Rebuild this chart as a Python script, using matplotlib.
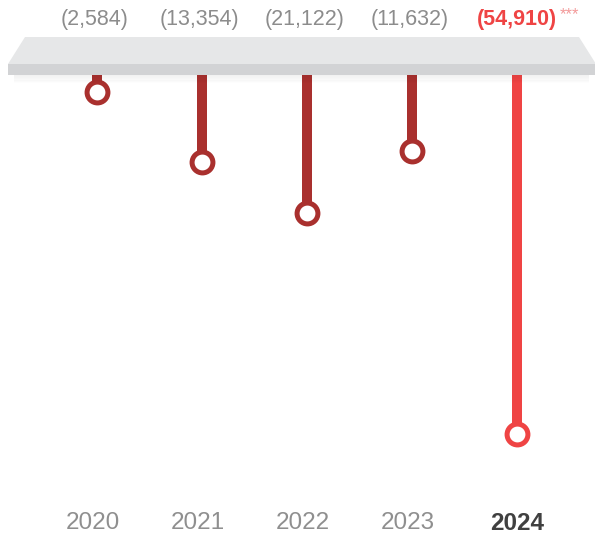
import matplotlib.pyplot as plt
from matplotlib.patches import Polygon, Rectangle
import matplotlib.transforms as mtransforms

# Werte (Verluste) je Jahr
jahre = ["2020", "2021", "2022", "2023", "2024"]
werte = [2584, 13354, 21122, 11632, 54910]
labels = ["(2,584)", "(13,354)", "(21,122)", "(11,632)", "(54,910)"]

dunkelrot = "#a9302e"
hellrot = "#ef4444"
farben = [dunkelrot, dunkelrot, dunkelrot, dunkelrot, hellrot]

B, H = 595, 535
fig = plt.figure(figsize=(B / 100, H / 100), dpi=100)
plt.rcParams['font.family'] = ['Liberation Sans', 'DejaVu Sans']

# Hintergrund-Achse in Pixelkoordinaten fuer das "Regal"
deko = fig.add_axes([0, 0, 1, 1])
deko.set_xlim(0, B)
deko.set_ylim(H, 0)
deko.axis("off")

# Schatten unter dem Regal
for i in range(8):
    deko.add_patch(Rectangle((14, 75 + i * 0.9), 575, 1.2, color="#000000",
                             alpha=0.05 * (1 - i / 8), lw=0, zorder=1))
# Oberseite und Vorderkante
deko.add_patch(Polygon([(25, 37), (579, 37), (596, 64), (8, 64)],
                       closed=True, color="#e6e7e8", lw=0, zorder=2))
deko.add_patch(Rectangle((8, 64), 590, 11, color="#d2d3d5", lw=0, zorder=2))

# Daten-Achse: x = Jahr-Index, y = Wert (nach unten)
ax = fig.add_axes([0, 0, 1, 1])
ax.patch.set_alpha(0)
deko.set_zorder(1)
ax.set_zorder(0)
k = 359 / 54910
ax.set_xlim(-97 / 105, (B - 97) / 105)
ax.set_ylim((H - 75) / k, -75 / k)
ax.axis("off")

x = range(len(werte))
ax.vlines(x, 0, werte, colors=farben, lw=7.2, zorder=3)
for i, v in enumerate(werte):
    ax.plot(i, v, "o", ms=15, mfc="white", mec=farben[i], mew=3.6, zorder=4)

# Beschriftungen oben
trans = mtransforms.blended_transform_factory(ax.transData, fig.transFigure)
for i, t in enumerate(labels):
    if i < 4:
        ax.text(i - 0.02, 1 - 19 / H, t, transform=trans, ha="center",
                va="center", fontsize=15.5, color="#8c8c8c", zorder=5)
    else:
        ax.text(i, 1 - 19 / H, t, transform=trans, ha="center", va="center",
                fontsize=15.5, color=hellrot, fontweight="bold", zorder=5)
        ax.text(i + 0.41, 1 - 15 / H, "***", transform=trans, ha="left",
                va="center", fontsize=12, color="#f39a9a", zorder=5)

# Jahreszahlen unten
for i, j in enumerate(jahre):
    if i < 4:
        ax.text(i - 0.04, 1 - 523 / H, j, transform=trans, ha="center",
                va="center", fontsize=17.5, color="#8f8f8f")
    else:
        ax.text(i, 1 - 523 / H, j, transform=trans, ha="center",
                va="center", fontsize=17.5, color="#404040", fontweight="bold")

fig.savefig("out.png", dpi=100)
